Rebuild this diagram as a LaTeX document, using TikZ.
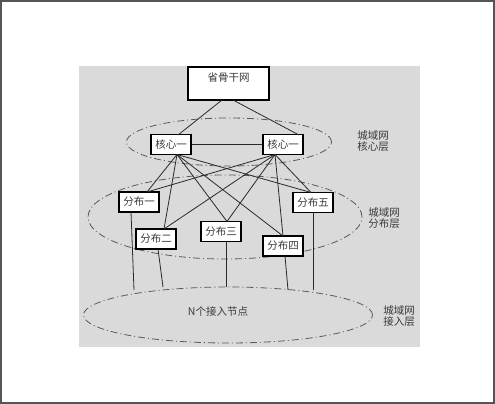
\documentclass[tikz,border=0pt]{standalone}
\usepackage{fontspec}
\setmainfont{Noto Sans CJK SC}
\usetikzlibrary{shapes.geometric}
\definecolor{bggray}{HTML}{DADADA}
\definecolor{framegray}{HTML}{555555}
\definecolor{linegray}{HTML}{2A2A2A}
\definecolor{dashgray}{HTML}{5A5A5A}
\definecolor{txtgray}{HTML}{3A3A3A}
\tikzset{
  box/.style={draw=black, fill=white, line width=1.1pt, minimum width=40pt, minimum height=20pt, inner sep=0pt, font=\fontsize{10.5}{12}\selectfont, text=txtgray},
  link/.style={draw=linegray, line width=0.8pt},
  layer/.style={ellipse, draw=dashgray, line width=0.8pt, dash pattern=on 7pt off 3pt on 1pt off 3pt, inner sep=0pt},
  lbl/.style={align=left, font=\fontsize{10.5}{11}\selectfont, text=txtgray, inner sep=0pt}
}
\begin{document}
\begin{tikzpicture}[x=1pt,y=-1pt]
\useasboundingbox (0,0) rectangle (495,404);
\fill[white] (0,0) rectangle (495,404);
\draw[framegray, line width=2pt] (1,1) rectangle (494,403);
\fill[bggray] (79,66) rectangle (420,347);
% layers
\node[layer, minimum width=205pt, minimum height=48pt] (lcore) at (229,142) {};
\node[layer, minimum width=274pt, minimum height=84pt] (ldist) at (225,217) {};
\node[layer, minimum width=289pt, minimum height=56pt] (lacc) at (228,315) {};
% boxes
\node[box, minimum width=81pt, minimum height=33pt, text depth=12pt] (top) at (228.5,83.5) {省骨干网};
\node[box] (c1) at (171,144.5) {核心一};
\node[box] (c2) at (283,144.5) {核心一};
\node[box] (d1) at (139,202) {分布一};
\node[box] (d2) at (156,239) {分布二};
\node[box] (d3) at (221,231.5) {分布三};
\node[box] (d4) at (283,246) {分布四};
\node[box] (d5) at (313,202.5) {分布五};
% labels
\node[lbl] (t1) at (373,141.5) {城域网\\核心层};
\node[lbl] (t2) at (384,218.5) {城域网\\分布层};
\node[lbl] (t3) at (399,316.5) {城域网\\接入层};
\node[font=\fontsize{10.5}{12}\selectfont, text=txtgray] (acc) at (218,312) {N个接入节点};
% connectors
\coordinate (tl) at (222,100);
\coordinate (tr) at (233,100);
\coordinate (c1t) at (178,135);
\coordinate (c2t) at (299,135);
\coordinate (c1b) at (177,154.5);
\coordinate (c2b) at (275,154.5);
\coordinate (d1t) at (147,192);
\coordinate (d2t) at (164,229);
\coordinate (d3t) at (227,221.5);
\coordinate (d4t) at (283,236);
\coordinate (d5t) at (311,192.5);
\draw[link] (tl) -- (c1t);
\draw[link] (tr) -- (c2t);
\draw[link] (c1) -- (c2);
\foreach \c in {c1b,c2b}{
  \foreach \d in {d1t,d2t,d3t,d4t,d5t}{
    \draw[link] (\c) -- (\d);
  }
}
\coordinate (a1) at (134,290);
\coordinate (a2) at (163,287);
\coordinate (a3) at (226,287);
\coordinate (a4) at (288,290);
\coordinate (a5) at (313,290);
\draw[link] (131,212) -- (a1);
\draw[link] (158,249) -- (a2);
\draw[link] (226,242) -- (a3);
\draw[link] (285,256) -- (a4);
\draw[link] (313,213) -- (a5);
\end{tikzpicture}
\end{document}
